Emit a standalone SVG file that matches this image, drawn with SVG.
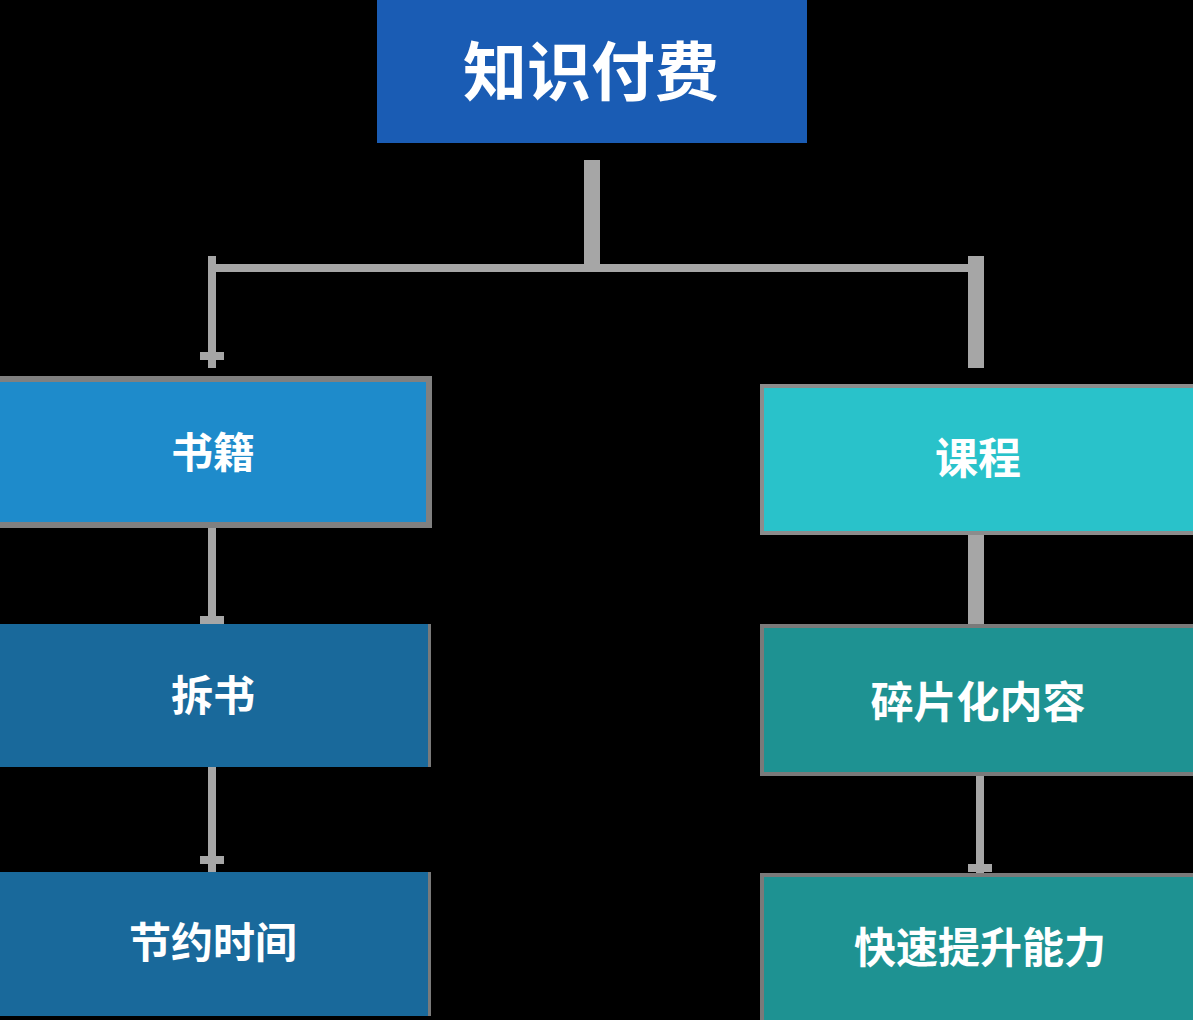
<svg xmlns="http://www.w3.org/2000/svg" width="1193" height="1020" viewBox="0 0 1193 1020">
<style>
.t{font-family:"Noto Sans CJK SC","Noto Sans",sans-serif;font-weight:bold;fill:#ffffff;text-anchor:middle;dominant-baseline:central}
.c{fill:#a6a6a6}
</style>
<rect x="0" y="0" width="1193" height="1020" fill="#000000"/>
<g id="connectors">
<rect class="c" x="584" y="160" width="16" height="108"/>
<rect class="c" x="208" y="264" width="776" height="8"/>
<rect class="c" x="208" y="256" width="8" height="112"/>
<rect class="c" x="200" y="352" width="24" height="8"/>
<rect class="c" x="968" y="256" width="16" height="112"/>
<rect class="c" x="208" y="527" width="8" height="98"/>
<rect class="c" x="200" y="616" width="24" height="8"/>
<rect class="c" x="968" y="533" width="16" height="94"/>
<rect class="c" x="208" y="767" width="8" height="106"/>
<rect class="c" x="200" y="856" width="24" height="8"/>
<rect class="c" x="976" y="774" width="8" height="100"/>
<rect class="c" x="968" y="864" width="24" height="8"/>
</g>
<g id="n-root">
<rect x="377" y="0" width="430" height="143" fill="#1a5cb4"/>
<text class="t" x="591" y="67" font-size="64">知识付费</text>
</g>
<g id="n-books">
<rect x="-3" y="379" width="432" height="146" fill="#1e8bcb" stroke="#808080" stroke-width="6"/>
<text class="t" x="213" y="449" font-size="42">书籍</text>
</g>
<g id="n-chaishu">
<rect x="0" y="624" width="431" height="143" fill="#7a7a7a"/>
<rect x="0" y="624" width="428" height="143" fill="#19699b"/>
<text class="t" x="213" y="692" font-size="42">拆书</text>
</g>
<g id="n-time">
<rect x="0" y="872" width="431" height="144" fill="#7a7a7a"/>
<rect x="0" y="872" width="428" height="144" fill="#19699b"/>
<text class="t" x="213" y="939" font-size="42">节约时间</text>
</g>
<g id="n-course">
<rect x="762" y="386" width="434" height="147" fill="#29c2ca" stroke="#8c8c8c" stroke-width="4"/>
<text class="t" x="978" y="455" font-size="43">课程</text>
</g>
<g id="n-frag">
<rect x="762" y="626" width="434" height="148" fill="#1e9292" stroke="#7a7a7a" stroke-width="4"/>
<text class="t" x="978" y="699" font-size="43">碎片化内容</text>
</g>
<g id="n-skill">
<rect x="762" y="875" width="434" height="148" fill="#1e9292" stroke="#7a7a7a" stroke-width="4"/>
<text class="t" x="980" y="944" font-size="42">快速提升能力</text>
</g>
</svg>
